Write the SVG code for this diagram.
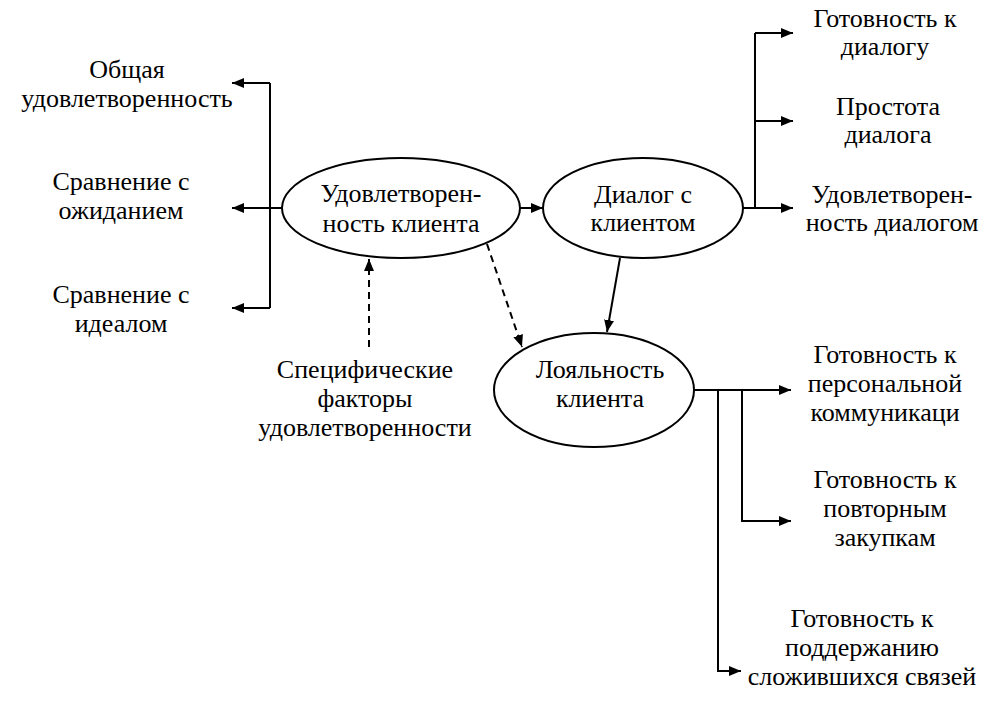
<svg xmlns="http://www.w3.org/2000/svg" width="1007" height="710" viewBox="0 0 1007 710">
<defs>
<marker id="ahL" viewBox="0 0 12 10" refX="12" refY="5" markerWidth="12" markerHeight="10" markerUnits="userSpaceOnUse" orient="auto">
<path d="M0,0 L12,5 L0,10 z" fill="#000"/>
</marker>
</defs>
<style>
ellipse{fill:#fff;stroke:#000;stroke-width:2}
.c{fill:none;stroke:#000;stroke-width:2}
.d{stroke-dasharray:7,5}
</style>
<rect width="1007" height="710" fill="#fff"/>
<g id="connectors">
<path class="c" d="M270,83 V308"/>
<path class="c" d="M270,83 H232" marker-end="url(#ahL)"/>
<path class="c" d="M282,208 H232" marker-end="url(#ahL)"/>
<path class="c" d="M270,308 H232" marker-end="url(#ahL)"/>
<path class="c" d="M520,208 H543" marker-end="url(#ahL)"/>
<path class="c" d="M755,33 V208"/>
<path class="c" d="M755,33 H793" marker-end="url(#ahL)"/>
<path class="c" d="M755,121 H793" marker-end="url(#ahL)"/>
<path class="c" d="M742,208 H793" marker-end="url(#ahL)"/>
<path class="c" d="M620,258 L607,332" marker-end="url(#ahL)"/>
<path class="c d" d="M487,244 L522,347" marker-end="url(#ahL)"/>
<path class="c d" d="M369,347 V259" marker-end="url(#ahL)"/>
<path class="c" d="M693,390 H791" marker-end="url(#ahL)"/>
<path class="c" d="M742,390 V521 H791" marker-end="url(#ahL)"/>
<path class="c" d="M718,390 V671 H741" marker-end="url(#ahL)"/>
</g>
<g id="n-sat">
<ellipse cx="401" cy="208" rx="119" ry="50"/>
<text font-family="Liberation Serif" font-size="26" text-anchor="middle" x="401" y="202">Удовлетворен-</text>
<text font-family="Liberation Serif" font-size="26" text-anchor="middle" x="401" y="232">ность клиента</text>
</g>
<g id="n-dialog">
<ellipse cx="643" cy="208" rx="100" ry="50"/>
<text font-family="Liberation Serif" font-size="26" text-anchor="middle" x="643" y="203">Диалог с</text>
<text font-family="Liberation Serif" font-size="26" text-anchor="middle" x="643" y="231">клиентом</text>
</g>
<g id="n-loyal">
<ellipse cx="594" cy="390" rx="100" ry="57"/>
<text font-family="Liberation Serif" font-size="26" text-anchor="middle" x="600" y="378">Лояльность</text>
<text font-family="Liberation Serif" font-size="26" text-anchor="middle" x="600" y="407">клиента</text>
</g>
<g id="t-general">
<text font-family="Liberation Serif" font-size="26" text-anchor="middle" x="127" y="78">Общая</text>
<text font-family="Liberation Serif" font-size="26" text-anchor="middle" x="127" y="107">удовлетворенность</text>
</g>
<g id="t-expect">
<text font-family="Liberation Serif" font-size="26" text-anchor="middle" x="121" y="190">Сравнение с</text>
<text font-family="Liberation Serif" font-size="26" text-anchor="middle" x="121" y="219">ожиданием</text>
</g>
<g id="t-ideal">
<text font-family="Liberation Serif" font-size="26" text-anchor="middle" x="121" y="303">Сравнение с</text>
<text font-family="Liberation Serif" font-size="26" text-anchor="middle" x="121" y="332">идеалом</text>
</g>
<g id="t-specific">
<text font-family="Liberation Serif" font-size="26" text-anchor="middle" x="365" y="378">Специфические</text>
<text font-family="Liberation Serif" font-size="26" text-anchor="middle" x="365" y="407">факторы</text>
<text font-family="Liberation Serif" font-size="26" text-anchor="middle" x="365" y="436">удовлетворенности</text>
</g>
<g id="t-ready-dialog">
<text font-family="Liberation Serif" font-size="26" text-anchor="middle" x="885" y="27">Готовность к</text>
<text font-family="Liberation Serif" font-size="26" text-anchor="middle" x="885" y="55">диалогу</text>
</g>
<g id="t-simple">
<text font-family="Liberation Serif" font-size="26" text-anchor="middle" x="888" y="115">Простота</text>
<text font-family="Liberation Serif" font-size="26" text-anchor="middle" x="888" y="143">диалога</text>
</g>
<g id="t-sat-dialog">
<text font-family="Liberation Serif" font-size="26" text-anchor="middle" x="892" y="203">Удовлетворен-</text>
<text font-family="Liberation Serif" font-size="26" text-anchor="middle" x="892" y="231">ность диалогом</text>
</g>
<g id="t-personal">
<text font-family="Liberation Serif" font-size="26" text-anchor="middle" x="885" y="363">Готовность к</text>
<text font-family="Liberation Serif" font-size="26" text-anchor="middle" x="885" y="392">персональной</text>
<text font-family="Liberation Serif" font-size="26" text-anchor="middle" x="885" y="421">коммуникаци</text>
</g>
<g id="t-repeat">
<text font-family="Liberation Serif" font-size="26" text-anchor="middle" x="885" y="488">Готовность к</text>
<text font-family="Liberation Serif" font-size="26" text-anchor="middle" x="885" y="517">повторным</text>
<text font-family="Liberation Serif" font-size="26" text-anchor="middle" x="885" y="546">закупкам</text>
</g>
<g id="t-support">
<text font-family="Liberation Serif" font-size="26" text-anchor="middle" x="862" y="627">Готовность к</text>
<text font-family="Liberation Serif" font-size="26" text-anchor="middle" x="862" y="656">поддержанию</text>
<text font-family="Liberation Serif" font-size="26" text-anchor="middle" x="862" y="685">сложившихся связей</text>
</g>
</svg>
